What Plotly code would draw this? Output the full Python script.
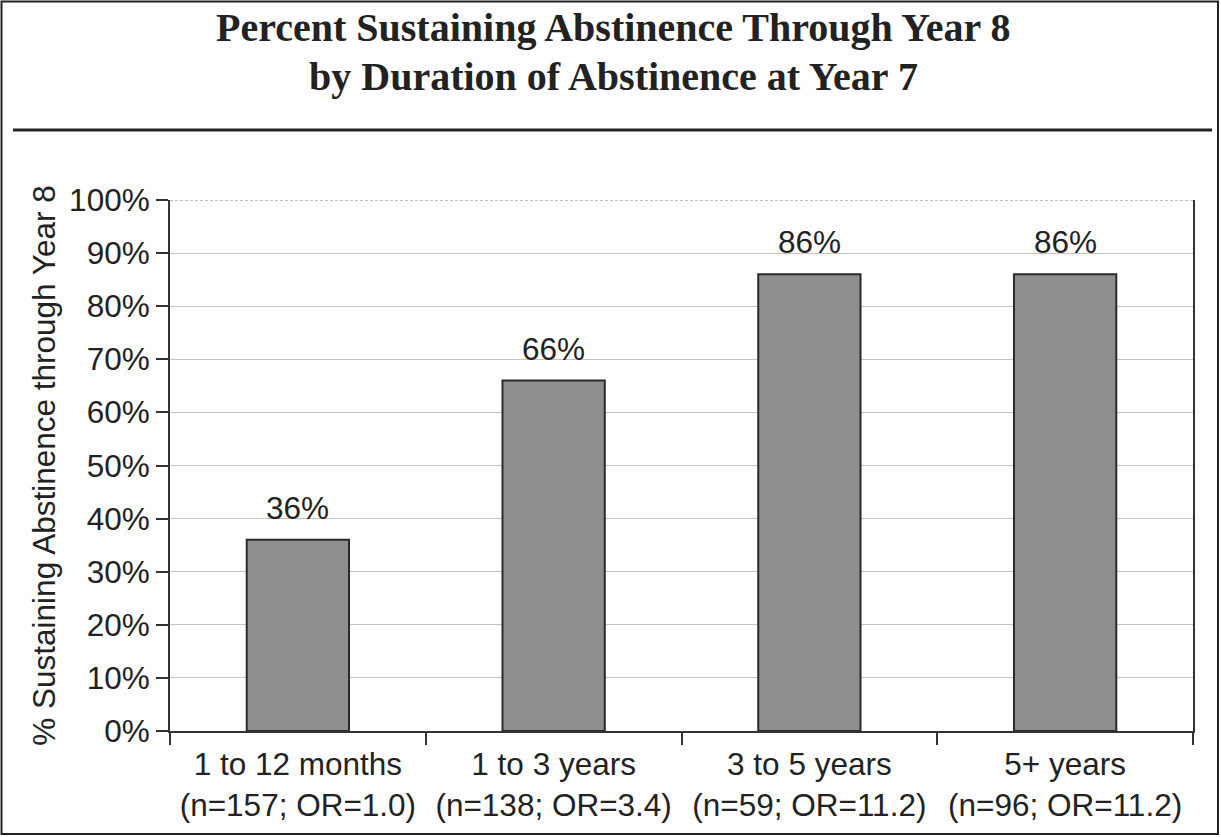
import plotly.graph_objects as go

# Duration-of-abstinence groups and their sustained-abstinence rates
categories = [
    "1 to 12 months<br>(n=157; OR=1.0)",
    "1 to 3 years<br>(n=138; OR=3.4)",
    "3 to 5 years<br>(n=59; OR=11.2)",
    "5+ years<br>(n=96; OR=11.2)",
]
pct_sustaining = [36, 66, 86, 86]
y_ticks = list(range(0, 101, 10))

W, H = 1221, 837
L, R, T, B = 170, 28, 200, 106
PW, PH = W - L - R, H - T - B

def px_x(px):
    return (px - L) / PW

def px_y(py):
    return (H - B - py) / PH

TXT = "#222222"
SANS = "Liberation Sans, Arial, Helvetica, sans-serif"
SERIF = "Liberation Serif, Times New Roman, serif"
FS = 31.5

fig = go.Figure(
    go.Bar(
        x=categories,
        y=pct_sustaining,
        marker=dict(color="#8e8e8e", line=dict(color="#2a2a2a", width=2)),
        hoverinfo="x+y",
    )
)

fig.update_layout(
    width=W,
    height=H,
    margin=dict(l=L, r=R, t=T, b=B),
    paper_bgcolor="white",
    plot_bgcolor="white",
    bargap=0.6,
    showlegend=False,
    font=dict(family=SANS, size=FS, color=TXT),
)

fig.update_xaxes(
    type="category",
    showline=True,
    linecolor="#333333",
    linewidth=2,
    ticks="outside",
    tickson="boundaries",
    ticklen=12,
    tickwidth=2,
    tickcolor="#333333",
    showgrid=False,
    ticklabelstandoff=4,
    tickfont=dict(family=SANS, size=FS, color=TXT),
)

fig.update_yaxes(
    range=[0, 100],
    tickvals=y_ticks,
    ticktext=[f"{v}%" for v in y_ticks],
    showline=True,
    mirror=True,
    linecolor="#333333",
    linewidth=2,
    ticks="outside",
    ticklen=12,
    tickwidth=2,
    tickcolor="#333333",
    showgrid=True,
    gridcolor="#c4c4c4",
    gridwidth=1,
    zeroline=False,
    tickfont=dict(family=SANS, size=FS, color=TXT),
    title=dict(
        text="% Sustaining Abstinence through Year 8",
        font=dict(family=SANS, size=FS, color=TXT),
        standoff=4,
    ),
)

shapes = [
    # dashed top gridline at 100%
    dict(type="line", xref="paper", yref="y", x0=0, x1=1, y0=100, y1=100,
         line=dict(color="white", width=2), layer="above"),
    dict(type="line", xref="paper", yref="y", x0=0, x1=1, y0=100, y1=100,
         line=dict(color="#a8a8a8", width=1.5, dash="3px,2px"), layer="above"),
    # rule under the title
    dict(type="line", xref="paper", yref="paper",
         x0=px_x(13), x1=px_x(1212), y0=px_y(130), y1=px_y(130),
         line=dict(color="#222222", width=3)),
    # outer frame
    dict(type="rect", xref="paper", yref="paper",
         x0=px_x(1.5), x1=px_x(1218), y0=px_y(834), y1=px_y(1.5),
         line=dict(color="#222222", width=2)),
]
fig.update_layout(shapes=shapes)

# value labels above each bar
value_labels = [
    dict(text=f"{v}%", x=c, y=v, xref="x", yref="y",
         xanchor="center", yanchor="bottom", yshift=12, showarrow=False,
         font=dict(family=SANS, size=FS, color=TXT))
    for c, v in zip(categories, pct_sustaining)
]

title_lines = [
    ("Percent Sustaining Abstinence Through Year 8", 28),
    ("by Duration of Abstinence at Year 7", 76),
]
title_notes = [
    dict(text=f"<b>{t}</b>", xref="paper", yref="paper",
         x=px_x(613), y=px_y(cy), xanchor="center", yanchor="middle",
         showarrow=False, font=dict(family=SERIF, size=40, color=TXT))
    for t, cy in title_lines
]
fig.update_layout(annotations=value_labels + title_notes)

fig.write_html("out.html")
